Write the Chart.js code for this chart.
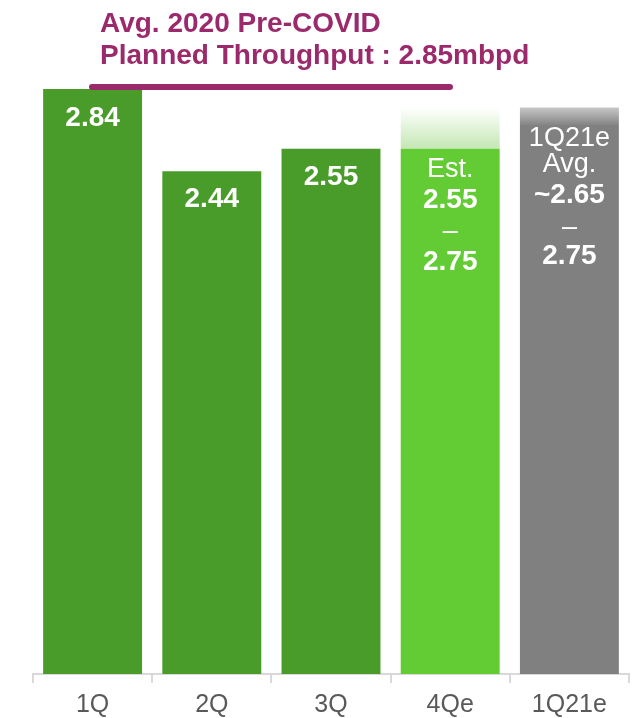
<!DOCTYPE html>
<html>
<head>
<meta charset="utf-8">
<script src="https://cdn.jsdelivr.net/npm/chart.js@4.4.0/dist/chart.umd.min.js"></script>
<style>
  html, body { margin:0; padding:0; background:#fff; }
  #wrap { width:638px; height:718px; position:relative; }
</style>
</head>
<body>
<div id="wrap"><canvas id="c"></canvas></div>
<script>
// data
const categories = ['1Q', '2Q', '3Q', '4Qe', '1Q21e'];
const baseValues = [2.84, 2.44, 2.55, 2.55, 2.65];
const rangeTop = [null, null, null, 2.75, 2.75];
const targetLine = 2.85;
const titleLines = ['Avg. 2020 Pre-COVID', 'Planned Throughput : 2.85mbpd'];
const barLabels = [
  [{t:'2.84', b:true}],
  [{t:'2.44', b:true}],
  [{t:'2.55', b:true}],
  [{t:'Est.', b:false}, {t:'2.55', b:true}, {t:'–', b:false}, {t:'2.75', b:true}],
  [{t:'1Q21e', b:false}, {t:'Avg.', b:false}, {t:'~2.65', b:true}, {t:'–', b:false}, {t:'2.75', b:true}]
];

const DARK = '#4a9c2a', LIGHT = '#63cc35', GRAY = '#808080', PURPLE = '#9b2a6c';
const FONT = "'Liberation Sans', Arial, sans-serif";

const rangeValues = rangeTop.map((v,i)=> v==null ? null : +(v - baseValues[i]).toFixed(2));

function rangeFill(ctx){
  const chart = ctx.chart;
  const y = chart.scales.y;
  if(!y || !chart.chartArea) return '#ddd';
  const i = ctx.dataIndex;
  if(rangeTop[i]==null) return 'transparent';
  const top = y.getPixelForValue(rangeTop[i]);
  const bot = y.getPixelForValue(baseValues[i]);
  const g = chart.ctx.createLinearGradient(0, top, 0, bot);
  if(i===3){ g.addColorStop(0,'#ffffff'); g.addColorStop(1,'#c4e7b3'); }
  else { g.addColorStop(0,'#c8c8c8'); g.addColorStop(0.9,GRAY); }
  return g;
}

// title + target line + in-bar labels
const overlay = {
  id:'overlay',
  afterDatasetsDraw(chart){
    const c = chart.ctx, y = chart.scales.y;
    c.save();
    c.fillStyle = PURPLE;
    c.font = 'bold 28px ' + FONT;
    c.textAlign = 'left'; c.textBaseline = 'alphabetic';
    c.fillText(titleLines[0], 100, 32);
    c.fillText(titleLines[1], 100, 64);
    const ly = y.getPixelForValue(targetLine);
    c.strokeStyle = PURPLE; c.lineWidth = 6; c.lineCap = 'round';
    c.beginPath(); c.moveTo(92, ly); c.lineTo(450, ly); c.stroke();

    // offsets below each bar's top
    const offsets = [[29],[28],[29],[21,52,83,114],[31,57,88,120,149]];
    const meta0 = chart.getDatasetMeta(0);
    c.fillStyle = '#ffffff'; c.textAlign = 'center'; c.textBaseline = 'middle';
    barLabels.forEach((lines, i)=>{
      const bar = meta0.data[i];
      const topVal = i===4 ? rangeTop[i] : baseValues[i];
      const top = y.getPixelForValue(topVal);
      lines.forEach((ln, k)=>{
        c.font = (ln.b ? 'bold 28px ' : '27px ') + FONT;
        c.fillText(ln.t, bar.x, top + offsets[i][k]);
      });
    });
    c.restore();
  }
};

new Chart(document.getElementById('c'), {
  type:'bar',
  data:{
    labels: categories,
    datasets:[
      { data: baseValues, backgroundColor:[DARK, DARK, DARK, LIGHT, GRAY], borderWidth:0 },
      { data: rangeValues, backgroundColor: rangeFill, borderWidth:0 }
    ]
  },
  options:{
    responsive:true, maintainAspectRatio:false, animation:false,
    layout:{ padding:{ left:33, right:9, top:56, bottom:0 } },
    datasets:{ bar:{ barPercentage:0.83, categoryPercentage:1 } },
    plugins:{ legend:{display:false}, tooltip:{enabled:false} },
    scales:{
      x:{
        stacked:true,
        border:{ color:'#d9d9d9', width:2 },
        grid:{ drawOnChartArea:false, drawTicks:true, tickLength:9, color:'#d9d9d9', lineWidth:2, offset:true },
        ticks:{ color:'#595959', font:{ family:FONT, size:25 }, padding:7 },
        afterFit(s){ s.height = 44; }
      },
      y:{ stacked:true, display:false, min:0, max:3.0 }
    }
  },
  plugins:[overlay]
});
</script>
</body>
</html>
